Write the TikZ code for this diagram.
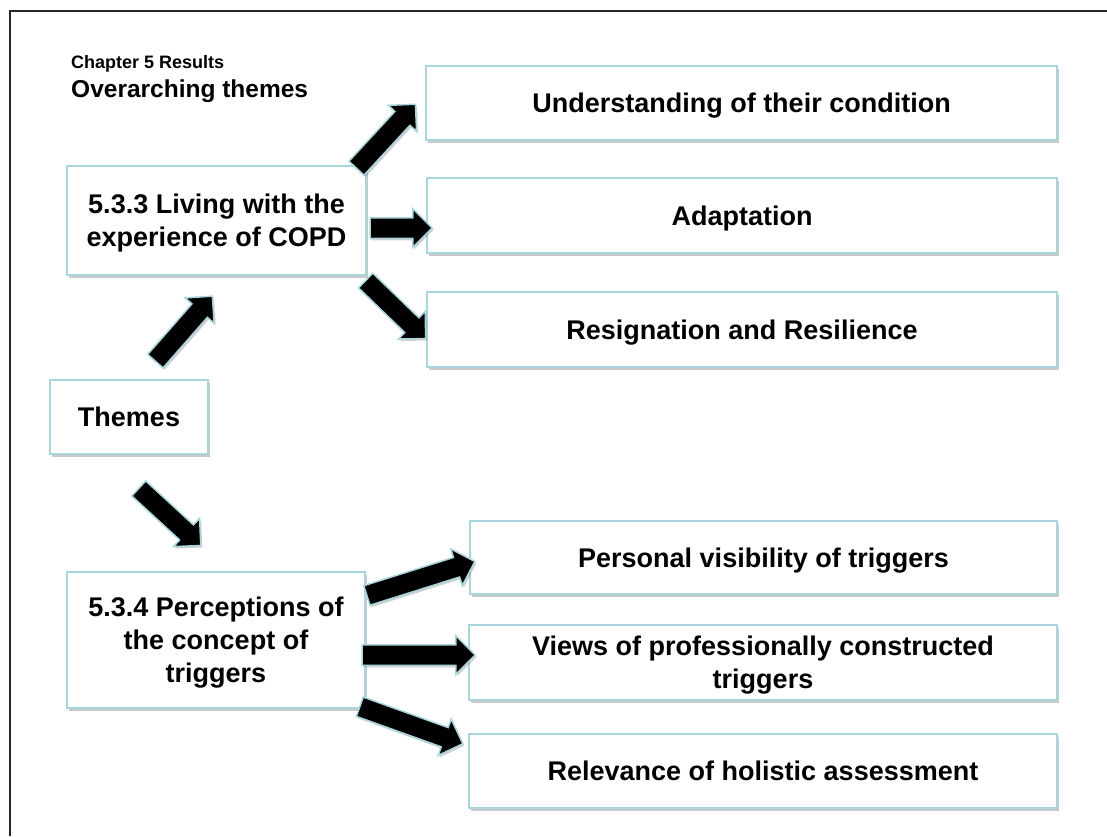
\documentclass[tikz,border=0pt]{standalone}
\usepackage{fontspec}
\setmainfont{Liberation Sans}
\usetikzlibrary{shapes.arrows,shadows,calc}
\definecolor{boxline}{RGB}{168,214,220}
\tikzset{
  box/.style={draw=boxline, line width=2pt, fill=white, inner sep=0pt, align=center,
    text depth=0pt,
    font=\bfseries\fontsize{27}{33}\selectfont,
    drop shadow={shadow xshift=2pt, shadow yshift=-3pt, opacity=0.35, fill=black!60}},
  blockarrow/.style={single arrow, draw=boxline, line width=1.5pt, fill=black,
    inner xsep=0pt, inner ysep=9.5pt, single arrow head extend=9pt,
    single arrow tip angle=90,
    drop shadow={shadow xshift=1.5pt, shadow yshift=-2pt, opacity=0.3, fill=black!60}},
  frameline/.style={line width=1.5pt, draw=black!85}
}
\newcommand{\blockarr}[3]{%
  \path let \p1=($(#3)-(#2)$), \n1={veclen(\x1,\y1)} in
    (#2) -- (#3) node[blockarrow, midway, sloped, minimum height=\n1] (#1) {};}
\begin{document}
\begin{tikzpicture}[x=1pt,y=-1pt]
\useasboundingbox (0,0) rectangle (1107,836);
\fill[white] (0,0) rectangle (1107,836);
% frame
\coordinate (f1) at (10,836);
\coordinate (f2) at (10,11);
\coordinate (f3) at (1107,11);
\draw[frameline] (f1) -- (f2) -- (f3);
% titles
\node[anchor=base west, inner sep=0pt, font=\bfseries\fontsize{18}{20}\selectfont] (chap) at (71,68) {Chapter 5 Results};
\node[anchor=base west, inner sep=0pt, font=\bfseries\fontsize{24.5}{28}\selectfont] (over) at (71,97) {Overarching themes};
% boxes
\node[box, minimum width=631pt, minimum height=74pt] (und) at (741.5,102.5) {Understanding of their condition};
\node[box, minimum width=630pt, minimum height=75pt] (ada) at (742,215.5) {Adaptation};
\node[box, minimum width=630pt, minimum height=75pt] (res) at (742,329.5) {Resignation and Resilience};
\node[box, minimum width=299pt, minimum height=109pt] (n533) at (216.5,220.5) {5.3.3 Living with the\\experience of COPD};
\node[box, minimum width=158pt, minimum height=74pt] (themes) at (129,417) {Themes};
\node[box, minimum width=298pt, minimum height=136pt] (n534) at (216,640) {5.3.4 Perceptions of\\the concept of\\triggers};
\node[box, minimum width=587pt, minimum height=73pt] (per) at (763.5,557.5) {Personal visibility of triggers};
\node[box, minimum width=588pt, minimum height=75pt] (vie) at (763,662.5) {Views of professionally constructed\\triggers};
\node[box, minimum width=588pt, minimum height=74pt] (rel) at (763,770.5) {Relevance of holistic assessment};
% arrow endpoints
\coordinate (t1) at (152,365); \coordinate (h1) at (209,300);
\coordinate (t2) at (135,485); \coordinate (h2) at (197,542);
\coordinate (t3) at (353,172); \coordinate (h3) at (412,108);
\coordinate (t4) at (365,228); \coordinate (h4) at (427,228);
\coordinate (t5) at (362,277); \coordinate (h5) at (422,335);
\coordinate (t6) at (362,597); \coordinate (h6) at (470,563);
\coordinate (t7) at (357,655); \coordinate (h7) at (470,655);
\coordinate (t8) at (355,705); \coordinate (h8) at (458,742);
\blockarr{a1}{t1}{h1}
\blockarr{a2}{t2}{h2}
\blockarr{a3}{t3}{h3}
\blockarr{a4}{t4}{h4}
\blockarr{a5}{t5}{h5}
\blockarr{a6}{t6}{h6}
\blockarr{a7}{t7}{h7}
\blockarr{a8}{t8}{h8}
\end{tikzpicture}
\end{document}
